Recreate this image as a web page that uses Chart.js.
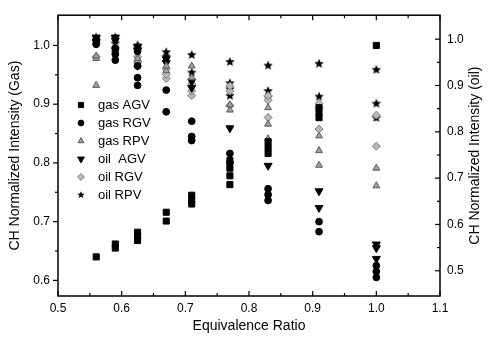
<!DOCTYPE html>
<html>
<head>
<meta charset="utf-8">
<script src="https://cdn.jsdelivr.net/npm/chart.js@4/dist/chart.umd.min.js"></script>
<style>
  html, body { margin: 0; padding: 0; background: #fff; }
</style>
</head>
<body>
<canvas id="chart" width="489" height="341"></canvas>
<script>
//-----------------------------------------------------------------------------
// Data: CH intensity vs equivalence ratio, one sub-list per ratio column
//-----------------------------------------------------------------------------

var ratios = [0.56, 0.59, 0.625, 0.67, 0.71, 0.77, 0.83, 0.91, 1.0];

// gas runs (left axis)
var gasAGV = [[0.640], [0.655, 0.662], [0.668, 0.675, 0.682], [0.701, 0.716], [0.730, 0.737, 0.745],
              [0.763, 0.778, 0.791, 0.804], [0.816, 0.826, 0.836], [0.877, 0.885, 0.894], [1.0]];
var gasRGV = [[1.002, 1.010], [0.975, 0.985, 0.995], [0.932, 0.945, 0.965, 0.990], [0.887, 0.924],
              [0.838, 0.845, 0.871], [0.800, 0.816], [0.736, 0.746, 0.756], [0.683, 0.700], [0.605, 0.615, 0.625]];
var gasRPV = [[0.932, 0.978, 0.982], [0.990], [0.972, 0.978], [0.957, 0.965], [0.945, 0.965],
              [0.890, 0.899], [0.841, 0.866, 0.894], [0.796, 0.821, 0.846], [0.761, 0.791]];

// oil runs (right axis)
var oilAGV = [[0.995, 1.004], [0.997, 1.004], [0.975, 0.983], [0.949, 0.957], [0.895, 0.909],
              [0.808], [0.727], [0.636, 0.672], [0.526, 0.549, 0.557]];
var oilRGV = [[0.962, 0.991], [0.974, 0.983], [0.941, 0.951, 0.962], [0.915, 0.924, 0.936], [0.878, 0.888, 0.903],
              [0.857, 0.888, 0.899], [0.831, 0.868, 0.878], [0.806, 0.852, 0.861], [0.769, 0.836]];
var oilRPV = [[0.993, 1.004], [0.978, 0.991, 1.004], [0.979, 0.987], [0.962, 0.972], [0.928, 0.966],
              [0.878, 0.892, 0.905, 0.951], [0.874, 0.888, 0.943], [0.876, 0.947], [0.830, 0.861, 0.934]];

var xTickLabels = ['0.5', '0.6', '0.7', '0.8', '0.9', '1.0', '1.1'];
var gasTickLabels = ['0.6', '0.7', '0.8', '0.9', '1.0'];
var oilTickLabels = ['0.5', '0.6', '0.7', '0.8', '0.9', '1.0'];

var oilTitle = 'CH Normalized Intensity (oil)';

//-----------------------------------------------------------------------------
// Helpers
//-----------------------------------------------------------------------------

var FONT = 'Arial, "Liberation Sans", Helvetica, sans-serif';

// flatten [[v, v], [v]] into scatter points at the matching ratio
function toPoints(columns) {
  var pts = [];
  columns.forEach(function(col, i) {
    col.forEach(function(v) { pts.push({x: ratios[i], y: v}); });
  });
  return pts;
}

// small filled five point star used as a point image
function starImage(r) {
  var size = Math.ceil(r * 2 + 2);
  var c = document.createElement('canvas');
  c.width = size; c.height = size;
  var ctx = c.getContext('2d');
  ctx.translate(size / 2, size / 2);
  ctx.beginPath();
  for (var k = 0; k < 10; k++) {
    var rad = (k % 2 === 0) ? r : r * 0.45;
    var a = -Math.PI / 2 + k * Math.PI / 5;
    ctx.lineTo(rad * Math.cos(a), rad * Math.sin(a));
  }
  ctx.closePath();
  ctx.fillStyle = '#000';
  ctx.fill();
  return c;
}

function fixedTicks(labels) {
  return function(scale) {
    scale.ticks = labels.map(function(t) { return {value: parseFloat(t)}; });
  };
}

var series = [
  {label: 'gas AGV', data: gasAGV, axis: 'yGas', style: 'rect', r: 4.3, bg: '#000', bd: '#000', rot: 0},
  {label: 'gas RGV', data: gasRGV, axis: 'yGas', style: 'circle', r: 3.4, bg: '#000', bd: '#000', rot: 0},
  {label: 'gas RPV', data: gasRPV, axis: 'yGas', style: 'triangle', r: 4, bg: '#a0a0a0', bd: '#5c5c5c', rot: 0},
  {label: 'oil  AGV', data: oilAGV, axis: 'yOil', style: 'triangle', r: 4.6, bg: '#000', bd: '#000', rot: 180},
  {label: 'oil RGV', data: oilRGV, axis: 'yOil', style: 'rectRot', r: 4, bg: '#b8b8b8', bd: '#808080', rot: 0},
  {label: 'oil RPV', data: oilRPV, axis: 'yOil', style: starImage(5), r: 5, bg: '#000', bd: '#000', rot: 0}
];

//-----------------------------------------------------------------------------
// Plugins: frame with ticks, right-hand title, and the in-plot legend
//-----------------------------------------------------------------------------

var framePlugin = {
  id: 'frame',
  afterDraw: function(chart) {
    var ctx = chart.ctx, a = chart.chartArea, s = chart.scales;
    ctx.save();
    ctx.strokeStyle = '#000';
    ctx.lineWidth = 1.5;
    ctx.strokeRect(a.left, a.top, a.right - a.left, a.bottom - a.top);
    ctx.lineWidth = 1.2;

    function ticksOf(labels) {
      var major = labels.map(parseFloat), minor = [];
      for (var i = 0; i < major.length - 1; i++) minor.push((major[i] + major[i + 1]) / 2);
      return {major: major, minor: minor};
    }
    function line(x1, y1, x2, y2) {
      ctx.beginPath(); ctx.moveTo(x1, y1); ctx.lineTo(x2, y2); ctx.stroke();
    }

    var xt = ticksOf(xTickLabels);
    [[xt.major, 5], [xt.minor, 3]].forEach(function(set) {
      set[0].forEach(function(v) {
        var px = s.x.getPixelForValue(v);
        line(px, a.bottom, px, a.bottom - set[1]);
        line(px, a.top, px, a.top + set[1]);
      });
    });
    var gt = ticksOf(gasTickLabels);
    [[gt.major, 5], [gt.minor, 3]].forEach(function(set) {
      set[0].forEach(function(v) {
        var py = s.yGas.getPixelForValue(v);
        line(a.left, py, a.left - set[1], py);
      });
    });
    var ot = ticksOf(oilTickLabels);
    [[ot.major, 5], [ot.minor, 3]].forEach(function(set) {
      set[0].forEach(function(v) {
        var py = s.yOil.getPixelForValue(v);
        line(a.right, py, a.right - set[1], py);
      });
    });

    // right axis title reads bottom to top, like the left one
    ctx.translate(475, (a.top + a.bottom) / 2);
    ctx.rotate(-Math.PI / 2);
    ctx.font = '14px ' + FONT;
    ctx.fillStyle = '#000';
    ctx.textAlign = 'center';
    ctx.textBaseline = 'middle';
    ctx.fillText(oilTitle, 0, 0);
    ctx.restore();
  }
};

var legendPlugin = {
  id: 'insideLegend',
  afterDraw: function(chart) {
    var ctx = chart.ctx;
    ctx.save();
    ctx.font = '13px ' + FONT;
    ctx.textBaseline = 'middle';
    series.forEach(function(sr, i) {
      var y = 105 + i * 18;
      ctx.fillStyle = sr.bg;
      ctx.strokeStyle = sr.bd;
      Chart.helpers.drawPoint(ctx, {
        pointStyle: typeof sr.style === 'string' ? sr.style : starImage(3.8),
        radius: sr.r * 0.85, rotation: sr.rot, borderWidth: 1
      }, 81, y);
      ctx.fillStyle = '#000';
      ctx.fillText(sr.label, 98, y);
    });
    ctx.restore();
  }
};

//-----------------------------------------------------------------------------
// Chart
//-----------------------------------------------------------------------------

var datasets = series.map(function(sr) {
  return {
    label: sr.label,
    data: toPoints(sr.data),
    yAxisID: sr.axis,
    pointStyle: sr.style,
    pointRadius: sr.r,
    pointRotation: sr.rot,
    backgroundColor: sr.bg,
    borderColor: sr.bd,
    borderWidth: 1,
    showLine: false
  };
});

var tickFont = {family: FONT, size: 12};
var titleFont = {family: FONT, size: 14};

new Chart(document.getElementById('chart'), {
  type: 'scatter',
  data: {datasets: datasets},
  plugins: [framePlugin, legendPlugin],
  options: {
    responsive: false,
    animation: false,
    layout: {padding: {top: 7, left: 0, right: 0, bottom: 0}},
    plugins: {legend: {display: false}, tooltip: {enabled: false}},
    scales: {
      x: {
        type: 'linear', min: 0.5, max: 1.1,
        afterBuildTicks: fixedTicks(xTickLabels),
        afterFit: function(s) { s.height = 45; },
        grid: {display: false, drawTicks: false},
        border: {display: false},
        ticks: {font: tickFont, color: '#000', padding: 5, autoSkip: false, maxRotation: 0,
                callback: function(v, i) { return xTickLabels[i]; }},
        title: {display: true, text: 'Equivalence Ratio', font: titleFont, color: '#000', padding: {top: 0, bottom: 6}}
      },
      yGas: {
        type: 'linear', position: 'left', min: 0.5734, max: 1.0515,
        afterBuildTicks: fixedTicks(gasTickLabels),
        afterFit: function(s) { s.width = 58; },
        grid: {display: false, drawTicks: false},
        border: {display: false},
        ticks: {font: tickFont, color: '#000', padding: 8, autoSkip: false,
                callback: function(v, i) { return gasTickLabels[i]; }},
        title: {display: true, text: 'CH Normalized Intensity (Gas)', font: titleFont, color: '#000', padding: {top: 7, bottom: 0}}
      },
      yOil: {
        type: 'linear', position: 'right', min: 0.4455, max: 1.0518,
        afterBuildTicks: fixedTicks(oilTickLabels),
        afterFit: function(s) { s.width = 49; },
        grid: {display: false, drawTicks: false},
        border: {display: false},
        ticks: {font: tickFont, color: '#000', padding: 7, autoSkip: false,
                callback: function(v, i) { return oilTickLabels[i]; }}
      }
    }
  }
});
</script>
</body>
</html>
